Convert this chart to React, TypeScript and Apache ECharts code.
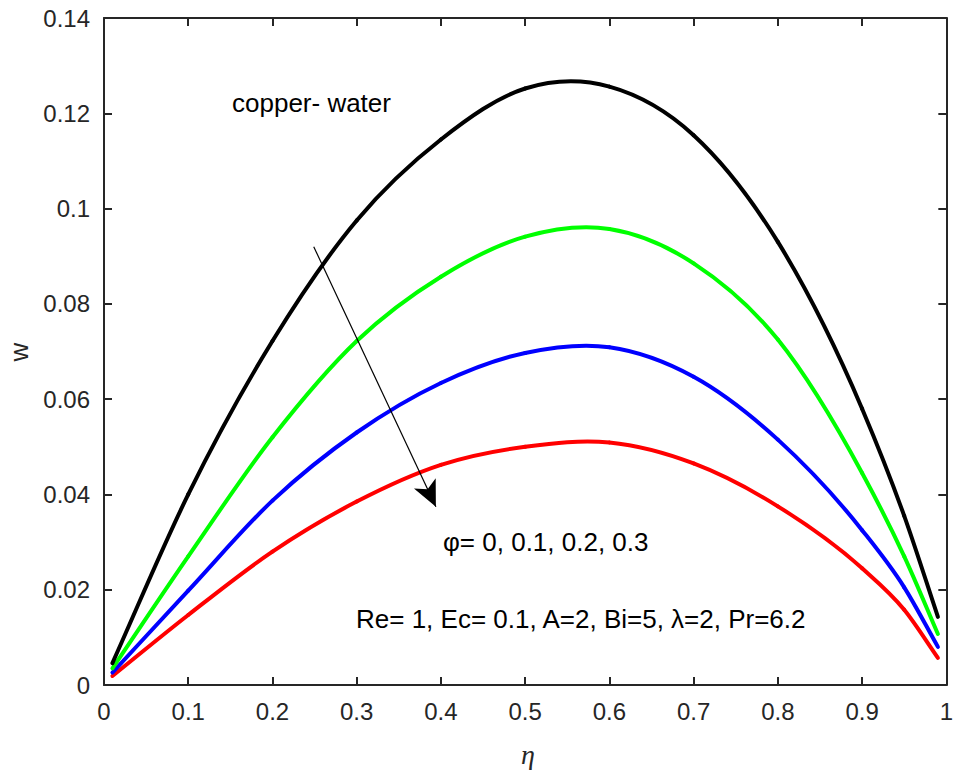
import React, { useEffect, useRef } from "react";
import * as echarts from "echarts";

// eta positions and w values (phi = 0, 0.1, 0.2, 0.3)
const eta = [0.01, 0.1, 0.2, 0.3, 0.4, 0.5, 0.6, 0.7, 0.8, 0.9, 0.95, 0.99];
const wPhi0 = [0.0046, 0.040, 0.0722, 0.0975, 0.1145, 0.1252, 0.1256, 0.1154, 0.093, 0.058, 0.0355, 0.0143];
const wPhi1 = [0.0035, 0.027, 0.052, 0.0722, 0.0857, 0.0941, 0.0957, 0.0885, 0.0725, 0.0445, 0.027, 0.0107];
const wPhi2 = [0.0026, 0.0198, 0.0387, 0.053, 0.0634, 0.0697, 0.0709, 0.0647, 0.0515, 0.0325, 0.0205, 0.008];
const wPhi3 = [0.0019, 0.0147, 0.028, 0.0385, 0.0462, 0.05, 0.0509, 0.0465, 0.0375, 0.0245, 0.0158, 0.0057];

const seriesNames = ["φ=0", "φ=0.1", "φ=0.2", "φ=0.3"];
const seriesColors = ["#000000", "#00ff00", "#0000ff", "#ff0000"];

const xTicks = { min: 0, max: 1, interval: 0.1 };
const yTicks = { min: 0, max: 0.14, interval: 0.02 };

const textCopper = "copper- water";
const textPhi = "φ= 0, 0.1, 0.2, 0.3";
const textParams = "Re= 1, Ec= 0.1, A=2, Bi=5, λ=2, Pr=6.2";
const xName = "η";
const yName = "w";

const FONT = "'Liberation Sans', Arial, Helvetica, sans-serif";
const AXIS = "#262626";

function pairs(xs: number[], ys: number[]) {
  return xs.map((x, i) => [x, ys[i]]);
}

// smooth curve through the data points (pixel positions come from api.coord)
function makeRenderItem(color: string) {
  return (params: any, api: any) => {
    const i = params.dataIndexInside;
    const n = params.dataInsideLength;
    if (i >= n - 1) return { type: "group", children: [] };
    const P = (k: number) => api.coord([api.value(0, k), api.value(1, k)]);
    const slope = (a: number[], b: number[]) => (b[1] - a[1]) / (b[0] - a[0]);
    const tangent = (k: number) => {
      const pk = P(k);
      if (k === 0) return slope(pk, P(1));
      if (k === n - 1) return slope(P(n - 2), pk);
      const pa = P(k - 1);
      const pb = P(k + 1);
      const h0 = pk[0] - pa[0];
      const h1 = pb[0] - pk[0];
      return (h1 * slope(pa, pk) + h0 * slope(pk, pb)) / (h0 + h1);
    };
    const p1 = P(i);
    const p2 = P(i + 1);
    const s1 = tangent(i);
    const s2 = tangent(i + 1);
    const h = p2[0] - p1[0];
    return {
      type: "bezierCurve",
      shape: {
        x1: p1[0],
        y1: p1[1],
        x2: p2[0],
        y2: p2[1],
        cpx1: p1[0] + h / 3,
        cpy1: p1[1] + (s1 * h) / 3,
        cpx2: p2[0] - h / 3,
        cpy2: p2[1] - (s2 * h) / 3,
      },
      style: { stroke: color, lineWidth: 4, fill: null, lineCap: "round" },
      silent: true,
    };
  };
}

export default function App() {
  const ref = useRef<HTMLDivElement>(null);
  useEffect(() => {
    document.body.style.margin = "0";
    const chart = echarts.init(ref.current!, null, { renderer: "svg" });
    const fmt = (v: number) => String(+v.toFixed(2));
    const grid = { left: 104, right: 6, top: 18, bottom: 86 };
    const axisCommon = {
      axisLine: { show: true, onZero: false, lineStyle: { color: AXIS, width: 2 } },
      axisTick: { show: true, inside: true, length: 8, lineStyle: { color: AXIS, width: 2 } },
      splitLine: { show: false },
    };
    const datasets = [
      pairs(eta, wPhi0),
      pairs(eta, wPhi1),
      pairs(eta, wPhi2),
      pairs(eta, wPhi3),
    ];
    const series: any[] = datasets.map((d, i) => ({
      type: "custom",
      name: seriesNames[i],
      data: d,
      encode: { x: 0, y: 1 },
      clip: false,
      renderItem: makeRenderItem(seriesColors[i]),
      z: 5 - i,
    }));
    series.push({
      type: "line",
      name: "arrow",
      data: [],
      symbol: "none",
      z: 6,
      markLine: {
        silent: true,
        symbol: ["none", "arrow"],
        symbolSize: [18, 26],
        label: { show: false },
        lineStyle: { color: "#000", width: 1.2, type: "solid" },
        emphasis: { disabled: true },
        data: [[{ coord: [0.249, 0.092] }, { coord: [0.394, 0.0374] }]],
      },
    });
    chart.setOption({
      animation: false,
      backgroundColor: "#ffffff",
      grid,
      xAxis: [
        {
          type: "value",
          ...xTicks,
          position: "bottom",
          ...axisCommon,
          axisLabel: { color: AXIS, fontSize: 24, fontFamily: FONT, margin: 14, formatter: fmt },
        },
        {
          type: "value",
          ...xTicks,
          position: "top",
          ...axisCommon,
          axisLabel: { show: false },
        },
      ],
      yAxis: [
        {
          type: "value",
          ...yTicks,
          position: "left",
          ...axisCommon,
          axisLabel: { color: AXIS, fontSize: 24, fontFamily: FONT, margin: 14, formatter: fmt },
        },
        {
          type: "value",
          ...yTicks,
          position: "right",
          ...axisCommon,
          axisLabel: { show: false },
        },
      ],
      series,
      graphic: [
        {
          type: "text",
          left: 232,
          top: 90,
          style: { text: textCopper, fill: "#000", font: `26px ${FONT}` },
        },
        {
          type: "text",
          left: 443,
          top: 529,
          style: { text: textPhi, fill: "#000", font: `26px ${FONT}` },
        },
        {
          type: "text",
          left: 356,
          top: 606,
          style: { text: textParams, fill: "#000", font: `26px ${FONT}` },
        },
        {
          type: "text",
          x: 528,
          y: 754,
          style: {
            text: xName,
            fill: AXIS,
            font: `italic 28px 'Liberation Serif', 'Times New Roman', serif`,
            align: "center",
            verticalAlign: "middle",
          },
        },
        {
          type: "text",
          x: 19,
          y: 352,
          rotation: Math.PI / 2,
          style: {
            text: yName,
            fill: AXIS,
            font: `26px ${FONT}`,
            align: "center",
            verticalAlign: "middle",
          },
        },
      ],
    });
    return () => chart.dispose();
  }, []);
  return <div ref={ref} style={{ width: 956, height: 771 }} />;
}
